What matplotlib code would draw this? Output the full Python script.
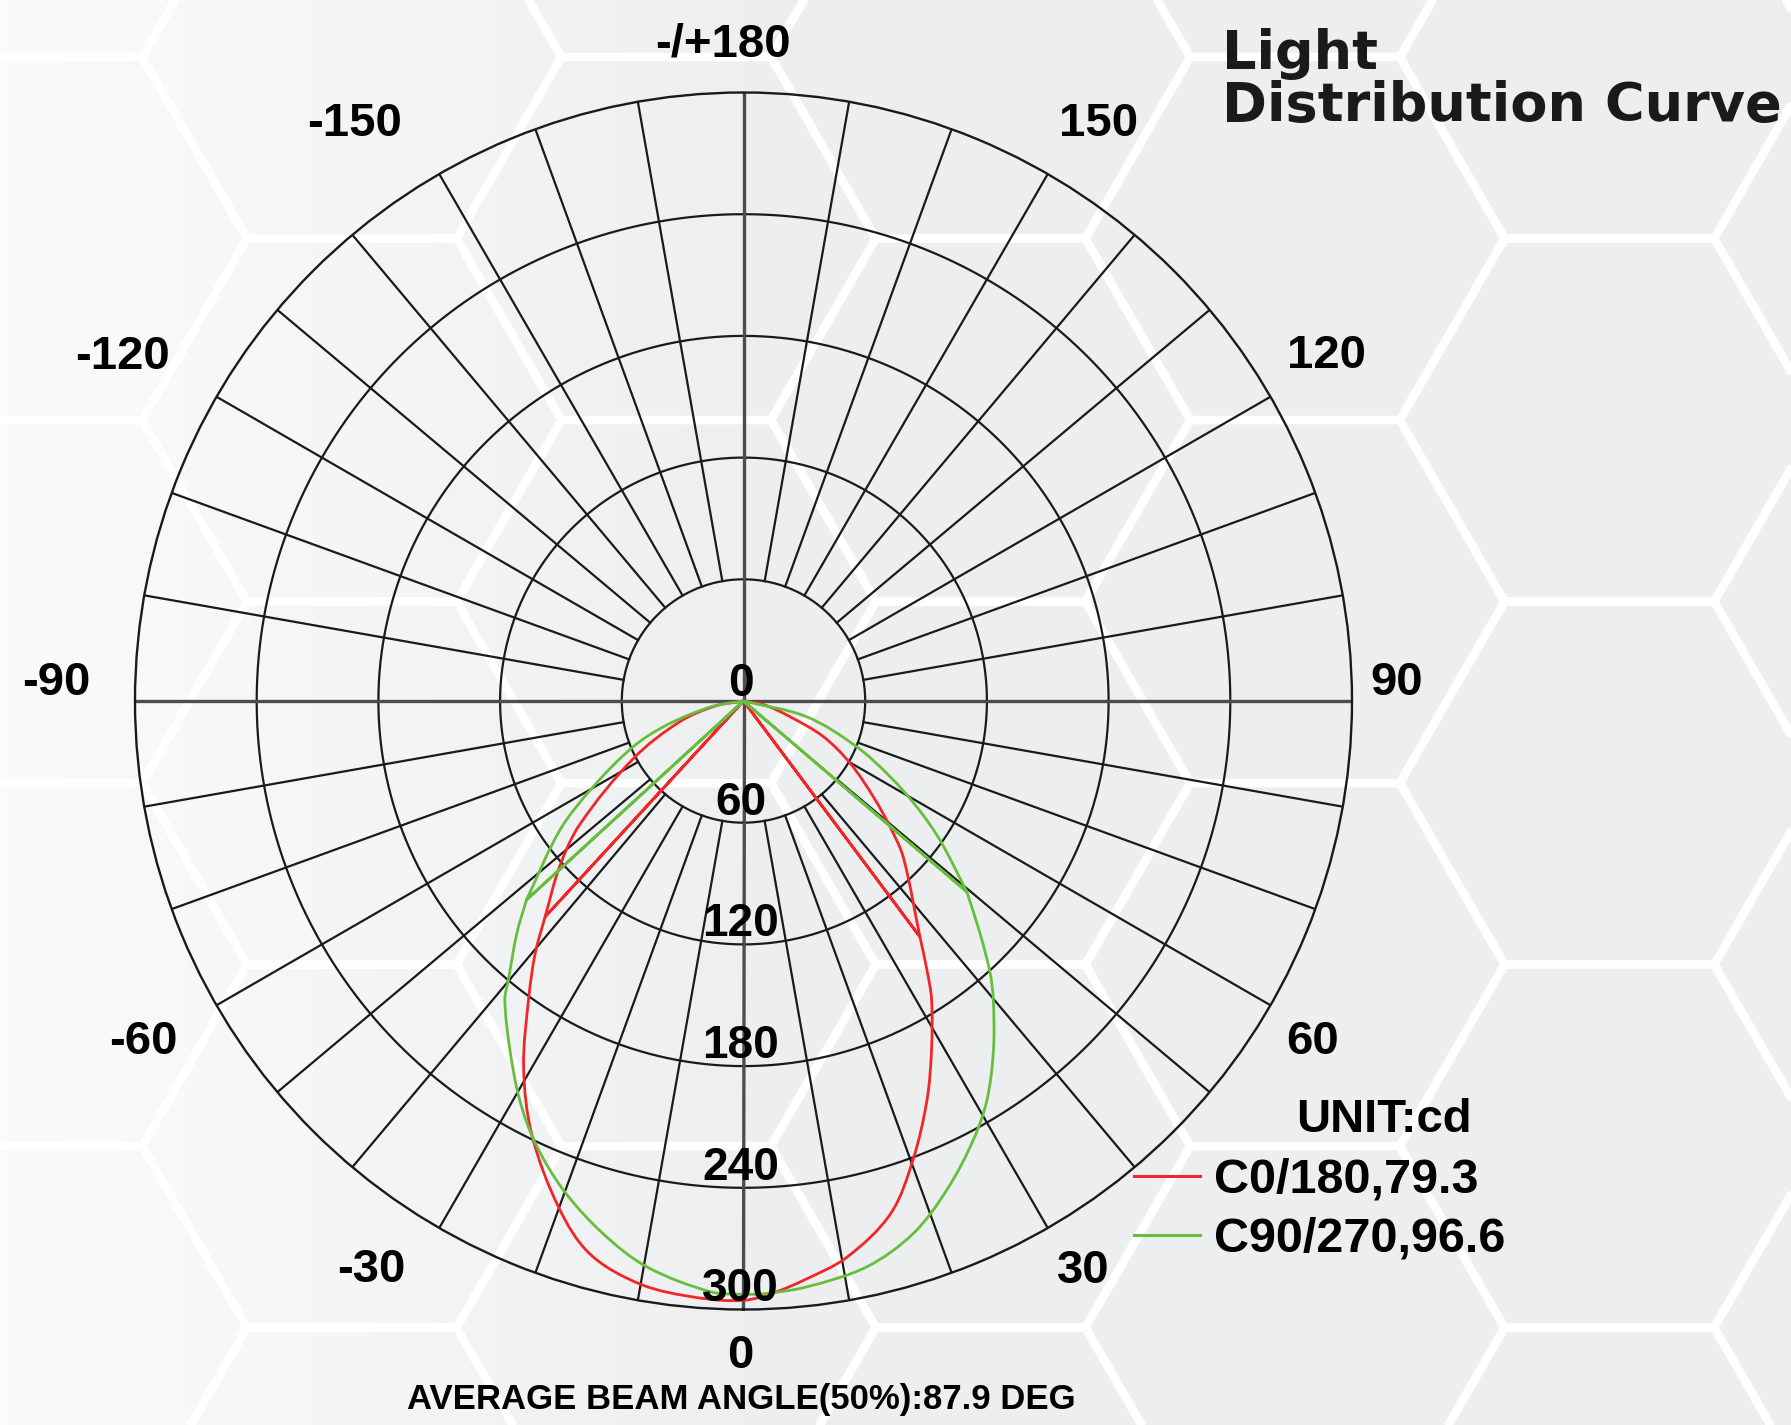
import numpy as np
import matplotlib.pyplot as plt
import matplotlib.colors as mcolors
from matplotlib.path import Path
from matplotlib.patches import PathPatch, RegularPolygon
from matplotlib.lines import Line2D

# light distribution data, gamma angle (deg, 0 = straight down) vs intensity (cd)
# the zero entries reproduce the radial spikes of the original drawing
c0_deg = [-90, -80, -72, -62.5, -53, -48, -42.6, -42.6, -42.6, -39.6, -36, -31, -26, -20,
          -15.5, -10, -4.5, 0, 3, 6, 10.5, 16, 20.3, 24.7, 28.3, 32.2, 34.3, 36.8, 36.8,
          36.8, 45.7, 49.4, 53.6, 59.7, 66, 71.4, 80, 90]
c0_cd = [0, 14, 33, 61, 101, 122, 144.5, 0, 144.5, 161, 180, 210.5, 238, 266,
         283, 292, 295, 295.5, 292, 287, 279, 263, 241, 216.5, 195.5, 174, 160.5, 145.2, 0,
         145.2, 110, 95, 79.5, 61, 43, 24, 10, 0]

c90_deg = [-90, -80, -72.6, -67.5, -60.3, -54.9, -47.5, -47.5, -47.5, -44.3, -40.1, -38.6,
           -33.8, -29.3, -25.2, -20.2, -14.8, -9.7, -3.2, 0, 2.2, 6.2, 12.3, 17.7, 22.6, 27.6,
           31.4, 35.6, 39.9, 42.2, 45.5, 49.5, 49.5, 49.5, 54.7, 58.6, 62.7, 68, 76, 90]
c90_cd = [0, 16, 39.7, 58.8, 85.3, 110.6, 145.1, 0, 145.1, 160, 180, 188.6,
          207, 225.5, 241, 257, 271.5, 283, 291.7, 292.5, 292.3, 290.5, 285.5, 275.5, 261, 244.4,
          230.4, 211.7, 192, 181, 163.5, 144.8, 0, 144.8, 118.7, 100, 81.3, 60.2, 32, 0]

series_names = ['C0/180,79.3', 'C90/270,96.6']
ring_values = [60, 120, 180, 240, 300]
radial_labels = ['0', '60', '120', '180', '240', '300']
angle_labels = ['0', '30', '60', '90', '120', '150', '-/+180', '-150', '-120', '-90', '-60', '-30']
angle_label_pos = [-0.3, 30.8, 59.1, 91.6, 120.6, 148.4, 181.8, -146, -119, -91.5, -60.4, -33.2]
angle_label_r = [323, 327, 327, 322, 334, 334, 324, 343, 350, 339, 340, 335]


def smooth_curve(deg, cd):
    """Path through the points, smooth between samples, straight where the angle repeats."""
    th = np.deg2rad(deg)
    r = np.asarray(cd, dtype=float)
    q = np.column_stack([r * np.sin(th), -r * np.cos(th)])
    segs, run = [], [0]
    for k in range(1, len(deg)):
        if deg[k] == deg[k - 1]:
            if len(run) > 1:
                segs.append(('curve', run))
            segs.append(('line', [k - 1, k]))
            run = [k]
        else:
            run.append(k)
    if len(run) > 1:
        segs.append(('curve', run))

    verts, codes = [q[0]], [Path.MOVETO]
    for kind, idx in segs:
        if kind == 'line':
            verts.append(q[idx[1]])
            codes.append(Path.LINETO)
            continue
        p = q[idx]
        tang = []
        for j in range(len(p)):
            if j == 0:
                t = p[1] - p[0]
            elif j == len(p) - 1:
                t = p[-1] - p[-2]
            else:
                t = p[j + 1] - p[j - 1]
            tang.append(t / np.hypot(*t))
        for j in range(len(p) - 1):
            d = np.hypot(*(p[j + 1] - p[j]))
            verts += [p[j] + tang[j] * d / 3, p[j + 1] - tang[j + 1] * d / 3, p[j + 1]]
            codes += [Path.CURVE4] * 3
    v = np.array(verts)
    polar = np.column_stack([np.arctan2(v[:, 0], -v[:, 1]), np.hypot(v[:, 0], v[:, 1])])
    return Path(polar, codes)


W, H = 1791, 1425
fig = plt.figure(figsize=(W / 100, H / 100), dpi=100)

# background: soft gradient with a white honeycomb
bg = fig.add_axes([0, 0, 1, 1])
xs = np.linspace(0, 1, 400)
t = np.clip(xs / 0.45, 0, 1)
c_left = np.array(mcolors.to_rgb('#fbfbfb'))
c_right = np.array(mcolors.to_rgb('#eceef0'))
grad = c_left[None, :] * (1 - t[:, None]) + c_right[None, :] * t[:, None]
bg.imshow(grad[None, :, :], extent=[0, W, H, 0], aspect='auto')
side = 209.6
hh = side * np.sqrt(3) / 2
for i in range(-5, 3):
    for j in range(-2, 6):
        hx = 1295 + 1.5 * side * i
        hy = 238.5 + 2 * hh * j + (hh if i % 2 else 0)
        bg.add_patch(RegularPolygon((hx, hy), 6, radius=side, orientation=np.pi / 6,
                                    fill=False, edgecolor='white', lw=6))
bg.set_xlim(0, W)
bg.set_ylim(H, 0)
bg.axis('off')

# polar chart
cx, cy, R = 743.5, 701, 608.5
ax = fig.add_axes([(cx - R) / W, 1 - (cy + R) / H, 2 * R / W, 2 * R / H], projection='polar')
ax.set_theta_zero_location('S')
ax.set_theta_direction(1)
ax.set_ylim(0, 300)
ax.patch.set_alpha(0)
ax.set_xticks([])
ax.set_yticks([])
ax.grid(False)
ax.spines['polar'].set_color('#1a1a1a')
ax.spines['polar'].set_linewidth(1.7)

th = np.linspace(0, 2 * np.pi, 721)
for v in ring_values[:-1]:
    ax.plot(th, np.full_like(th, v), color='#1a1a1a', lw=1.6, zorder=1)

for d in range(-170, 181, 10):
    if d % 90 == 0:
        ax.plot([np.deg2rad(d)] * 2, [0, 300], color='#4d4d4d', lw=2.4, zorder=1)
    else:
        ax.plot([np.deg2rad(d)] * 2, [60, 300], color='#1a1a1a', lw=1.6, zorder=1)

red, green = '#f22626', '#66bf3c'
for deg, cd, col in [(c0_deg, c0_cd, red), (c90_deg, c90_cd, green)]:
    ax.add_patch(PathPatch(smooth_curve(deg, cd), fill=False, edgecolor=col, lw=2.0,
                           zorder=3, transform=ax.transData, clip_on=False))

font = 'Liberation Sans'
for v, s in zip([0] + ring_values, radial_labels):
    ax.annotate(s, xy=(0, v), xytext=(-2, 12 if v == 0 else 14.5), textcoords='offset points',
                ha='center', va='center', fontsize=33, fontweight='bold', family=font, zorder=4)

for a, r, s in zip(angle_label_pos, angle_label_r, angle_labels):
    ax.text(np.deg2rad(a), r, s, ha='center', va='center', fontsize=34, fontweight='bold',
            family=font)

# title
fig.text(1222 / W, 1 - 68.5 / H, 'Light', ha='left', va='baseline',
         fontsize=39, fontweight='bold', family='DejaVu Sans', color='#1a1a1a')
fig.text(1222 / W, 1 - 121 / H, 'Distribution Curve', ha='left', va='baseline',
         fontsize=39, fontweight='bold', family='DejaVu Sans', color='#1a1a1a')

fig.text(1384 / W, 1 - 1120 / H, 'UNIT:cd', ha='center', va='center', fontsize=34,
         fontweight='bold', family=font)
handles = [Line2D([], [], color=red, lw=2.2, label=series_names[0]),
           Line2D([], [], color=green, lw=2.2, label=series_names[1])]
ax.legend(handles=handles, loc='upper left', bbox_to_anchor=(1134 / W, 1 - 1158 / H),
          bbox_transform=fig.transFigure, frameon=False,
          prop={'family': font, 'size': 35, 'weight': 'bold'},
          handlelength=1.35, handletextpad=0.3, labelspacing=0.28, borderpad=0,
          borderaxespad=0)

fig.text(741 / W, 1 - 1399 / H, 'AVERAGE BEAM ANGLE(50%):87.9 DEG', ha='center', va='center',
         fontsize=25, fontweight='bold', family=font)

fig.savefig('out.png', dpi=100)
